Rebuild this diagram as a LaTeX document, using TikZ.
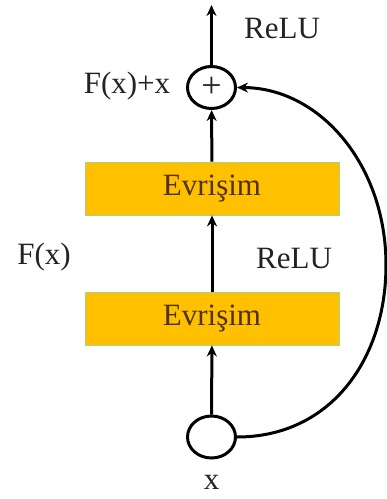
\documentclass[tikz,border=0pt]{standalone}
\usepackage{fontspec}
\setmainfont{Liberation Serif}
\usetikzlibrary{arrows.meta,shapes.geometric}
\definecolor{convfill}{RGB}{255,192,0}
\definecolor{convedge}{RGB}{169,209,142}
\definecolor{convtext}{RGB}{80,50,0}
\definecolor{ink}{RGB}{35,35,35}
\begin{document}
\begin{tikzpicture}[x=1pt, y=-1pt,
    every node/.style={font=\fontsize{31}{31}\selectfont, text=ink},
    conv/.style={rectangle, fill=convfill, draw=convedge, line width=0.8pt,
      minimum width=254pt, minimum height=53pt, text=convtext, inner sep=0pt},
    blob/.style={ellipse, draw=black, line width=3pt, minimum width=48pt,
      minimum height=42pt, inner sep=0pt},
    flow/.style={line width=3pt, -{Stealth[length=11pt,width=10pt]}}]
      \useasboundingbox (0,0) rectangle (387,499);

      % blocks
      \node[blob] (in) at (211.5,437) {};
      \node[conv] (conv1) at (212,318.5) {Evrişim};
      \node[conv] (conv2) at (212,188.5) {Evrişim};
      \node[blob, font=\fontsize{36}{36}\selectfont] (plus) at (211.5,87.5) {+};
      \coordinate (out) at (211.5,5);

      % labels
      \node[anchor=base, inner sep=0pt] (xlabel) at (211.5,489) {x};
      \node (fxlabel) at (44,257) {F(x)};
      \node (relumid) at (294,258) {ReLU};
      \node (sumlabel) at (127,86) {F(x)+x};
      \node (relutop) at (282,28) {ReLU};

      % main path
      \draw[flow] (in) -- (conv1);
      \draw[flow] (conv1) -- (conv2);
      \draw[flow] (conv2) -- (plus);
      \draw[flow] (plus) -- (out);

      % shortcut
      \draw[flow] (in.east) .. controls (330,437) and (386,360) .. (386,265)
        .. controls (386,165) and (320,88) .. (plus.east);
\end{tikzpicture}
\end{document}
